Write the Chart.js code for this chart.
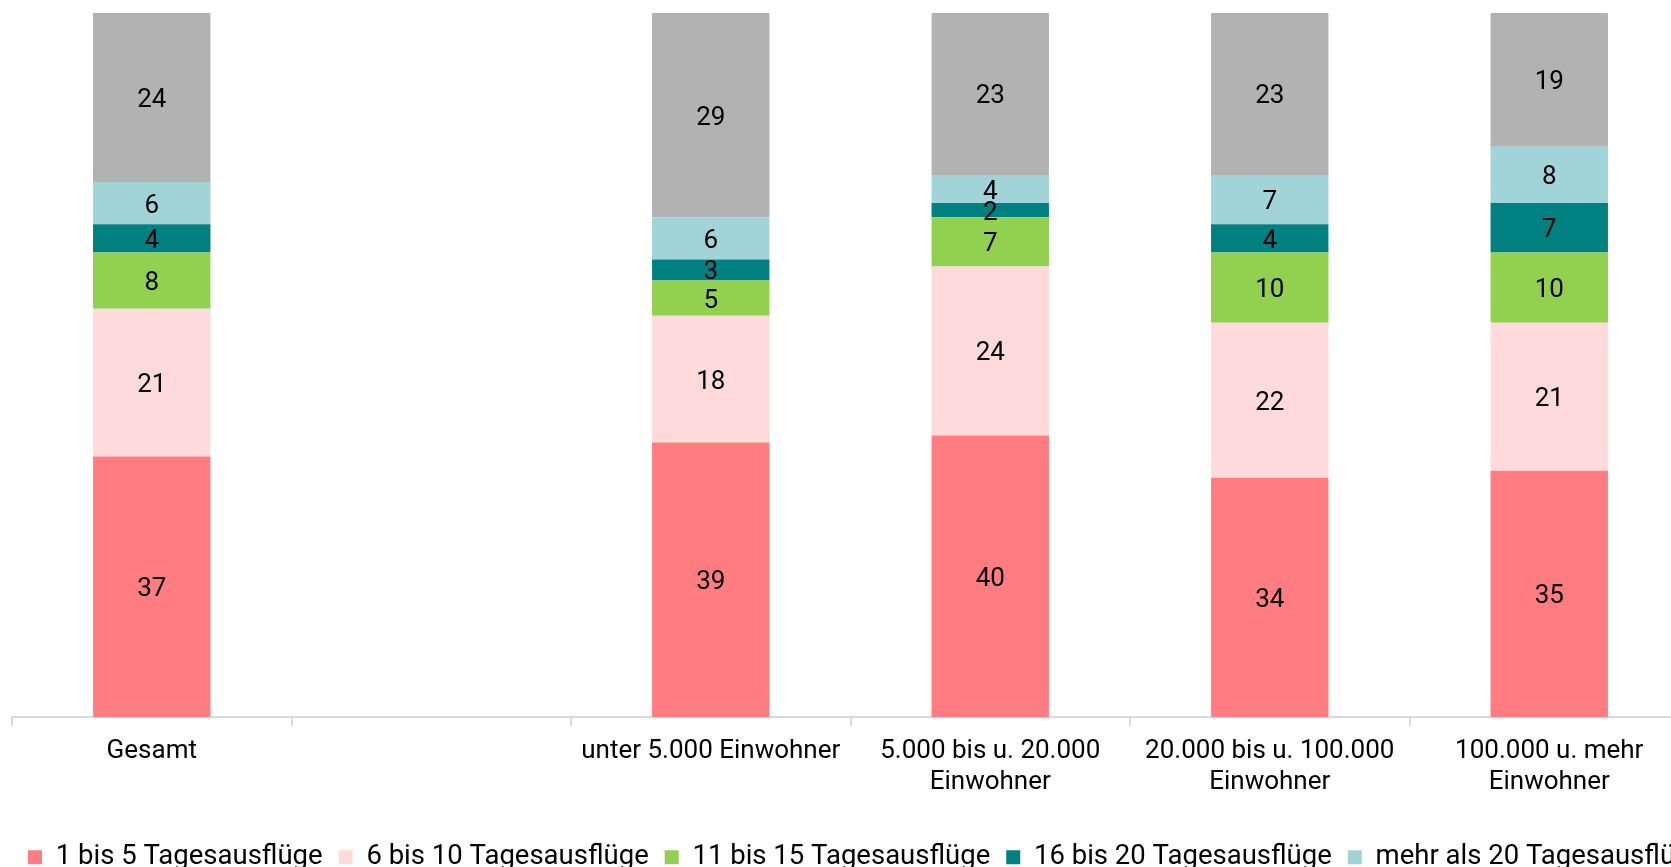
<!DOCTYPE html>
<html lang="de">
<head>
<meta charset="utf-8">
<script src="https://cdn.jsdelivr.net/npm/chart.js@4.4.1/dist/chart.umd.min.js"></script>
<style>
  html, body { margin: 0; padding: 0; background: #fff; overflow: hidden; }
  #wrap { width: 2100px; height: 881px; }
</style>
</head>
<body>
<div id="wrap"><canvas id="chart"></canvas></div>
<script>
// Kategorien (zweite Kategorie ist ein leerer Abstandshalter)
const categories = [
  'Gesamt',
  '',
  'unter 5.000 Einwohner',
  ['5.000 bis u. 20.000', 'Einwohner'],
  ['20.000 bis u. 100.000', 'Einwohner'],
  ['100.000 u. mehr', 'Einwohner']
];

const seriesNames = [
  '1 bis 5 Tagesausflüge',
  '6 bis 10 Tagesausflüge',
  '11 bis 15 Tagesausflüge',
  '16 bis 20 Tagesausflüge',
  'mehr als 20 Tagesausflüge',
  'keine Tagesausflüge'
];

// Werte in Prozent
const s1bis5   = [37, null, 39, 40, 34, 35];
const s6bis10  = [21, null, 18, 24, 22, 21];
const s11bis15 = [8,  null, 5,  7,  10, 10];
const s16bis20 = [4,  null, 3,  2,  4,  7];
const sMehr20  = [6,  null, 6,  4,  7,  8];
const sKeine   = [24, null, 29, 23, 23, 19];

const colors = ['#FF7C80', '#FFDADB', '#92D050', '#008080', '#A0D4D9', '#B2B2B2'];
const FONT = 'Roboto';

const allSeries = [s1bis5, s6bis10, s11bis15, s16bis20, sMehr20, sKeine];

// Werte mittig in die Segmente schreiben
const segmentLabels = {
  id: 'segmentLabels',
  afterDatasetsDraw(chart) {
    const ctx = chart.ctx;
    ctx.save();
    ctx.font = '26px ' + FONT;
    ctx.fillStyle = '#000';
    ctx.textAlign = 'center';
    ctx.textBaseline = 'middle';
    chart.data.datasets.forEach((ds, i) => {
      const meta = chart.getDatasetMeta(i);
      meta.data.forEach((bar, j) => {
        const v = ds.data[j];
        if (v == null) return;
        ctx.fillText(String(v), bar.x, (bar.y + bar.base) / 2 + 3);
      });
    });
    ctx.restore();
  }
};

new Chart(document.getElementById('chart'), {
  type: 'bar',
  data: {
    labels: categories,
    datasets: allSeries.map((d, i) => ({
      label: seriesNames[i],
      data: d,
      backgroundColor: colors[i],
      borderWidth: 0,
      barPercentage: 1,
      categoryPercentage: 0.42
    }))
  },
  options: {
    responsive: true,
    maintainAspectRatio: false,
    animation: false,
    layout: { padding: { left: 12, top: 13, right: 0, bottom: 0 } },
    plugins: {
      legend: {
        position: 'bottom',
        align: 'start',
        labels: {
          boxWidth: 14,
          boxHeight: 14,
          padding: 16,
          color: '#000',
          font: { family: FONT, size: 27.5 }
        }
      },
      tooltip: { enabled: false }
    },
    scales: {
      x: {
        stacked: true,
        grid: {
          offset: true,
          drawOnChartArea: false,
          drawTicks: true,
          tickLength: 9,
          color: '#D9D9D9',
          lineWidth: 2
        },
        border: { color: '#D9D9D9', width: 2 },
        ticks: {
          color: '#000',
          font: { family: FONT, size: 26 },
          padding: 10,
          maxRotation: 0,
          autoSkip: false
        },
        afterFit(scale) { scale.height += 19; }
      },
      y: {
        stacked: true,
        display: false,
        min: 0,
        max: 100
      },
      // unsichtbare Achse rechts, damit die Legende breiter als die Plotfläche ist
      yRight: {
        type: 'linear',
        position: 'right',
        display: true,
        grid: { display: false },
        ticks: { display: false },
        border: { display: false },
        afterFit(scale) { scale.width = 411; }
      }
    }
  },
  plugins: [segmentLabels]
});
</script>
</body>
</html>
